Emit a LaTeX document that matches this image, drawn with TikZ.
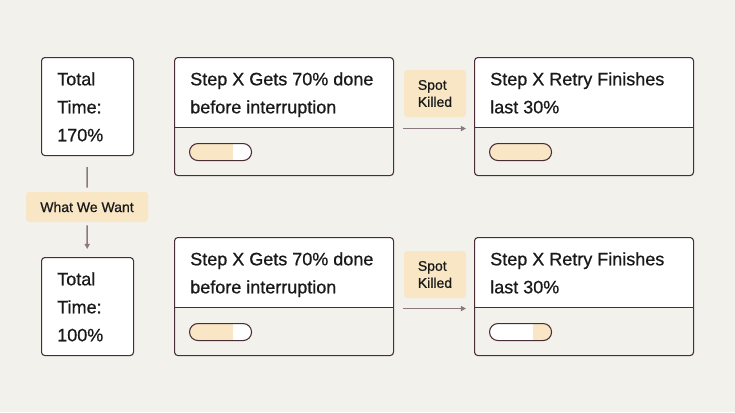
\documentclass[tikz,border=0pt]{standalone}
\usepackage{fontspec}
\setmainfont{Liberation Sans}[FakeBold=0.8]
\usetikzlibrary{arrows.meta,calc}
\definecolor{bg}{HTML}{F3F1EC}
\definecolor{cream}{HTML}{F8E6C4}
\definecolor{edge}{HTML}{4A2C37}
\definecolor{connc}{HTML}{8C7880}
\definecolor{ink}{HTML}{1A1A1A}
\begin{document}
\begin{tikzpicture}[x=0.75pt,y=-0.75pt,
  box/.style={draw=edge, line width=0.8pt, fill=white, rounded corners=2.5pt, inner sep=0pt, anchor=north west},
  stepbox/.style={box, minimum width=164.25pt, minimum height=88.5pt,
    path picture={
      \fill[bg, sharp corners] (path picture bounding box.south west) rectangle ([yshift=36pt]path picture bounding box.south east);
      \draw[edge, line width=0.8pt, sharp corners] ([yshift=36pt]path picture bounding box.south west) -- ([yshift=36pt]path picture bounding box.south east);
    }},
  timebox/.style={box, minimum width=69pt, minimum height=73.5pt},
  pill/.style 2 args={draw=edge, line width=0.8pt, fill=white, rounded corners=6.3pt, inner sep=0pt, anchor=north west,
    minimum width=46.5pt, minimum height=12.75pt,
    path picture={
      \fill[cream, sharp corners] ($(path picture bounding box.south west)!#1!(path picture bounding box.south east)$) rectangle ($(path picture bounding box.north west)!#2!(path picture bounding box.north east)$);
    }},
  tag/.style={fill=cream, rounded corners=2.5pt, inner sep=0pt, align=left, text=ink, font=\fontsize{10.5}{12.75}\selectfont},
  title/.style={inner sep=0pt, anchor=north west, align=left, text=ink, font=\fontsize{13.5}{21}\selectfont},
  connl/.style={draw=connc, line width=1.1pt},
  arr/.style={connl, -{Triangle[length=3.8pt,width=3.8pt]}}
]
\fill[bg] (0,0) rectangle (735,412);

% total time boxes
\node[timebox] (t1) at (41,57) {};
\node[timebox] (t2) at (41,257) {};
\node[title] (t1txt) at (57,72) {Total\\Time:\\170\%};
\node[title] (t2txt) at (57,272) {Total\\Time:\\100\%};

% what we want
\node[tag, minimum width=91.5pt, minimum height=22.5pt] (want) at (87,207) {What We Want};
\draw[connl, shorten <=8.25pt, shorten >=3pt] (t1) -- (want);
\draw[arr, shorten <=2.25pt, shorten >=6pt] (want) -- (t2);

% top row
\node[stepbox] (s1) at (174,57) {};
\node[stepbox] (s2) at (474,57) {};
\node[title] (s1txt) at (190,72) {Step X Gets 70\% done\\before interruption};
\node[title] (s2txt) at (490,72) {Step X Retry Finishes\\last 30\%};
\node[pill={0}{0.7}] (p1) at (189,143) {};
\node[pill={0}{1}] (p2) at (489,143) {};
\node[tag, minimum width=46.5pt, minimum height=35.25pt] (k1) at (435,93.5) {Spot\\Killed};
\draw[arr, shorten <=6.75pt, shorten >=6pt] ([yshift=-9pt]s1.east) -- ([yshift=-9pt]s2.west);

% bottom row
\node[stepbox] (s3) at (174,237) {};
\node[stepbox] (s4) at (474,237) {};
\node[title] (s3txt) at (190,252) {Step X Gets 70\% done\\before interruption};
\node[title] (s4txt) at (490,252) {Step X Retry Finishes\\last 30\%};
\node[pill={0}{0.7}] (p3) at (189,323) {};
\node[pill={0.7}{1}] (p4) at (489,323) {};
\node[tag, minimum width=46.5pt, minimum height=35.25pt] (k2) at (435,274.5) {Spot\\Killed};
\draw[arr, shorten <=6.75pt, shorten >=6pt] ([yshift=-9pt]s3.east) -- ([yshift=-9pt]s4.west);
\end{tikzpicture}
\end{document}
